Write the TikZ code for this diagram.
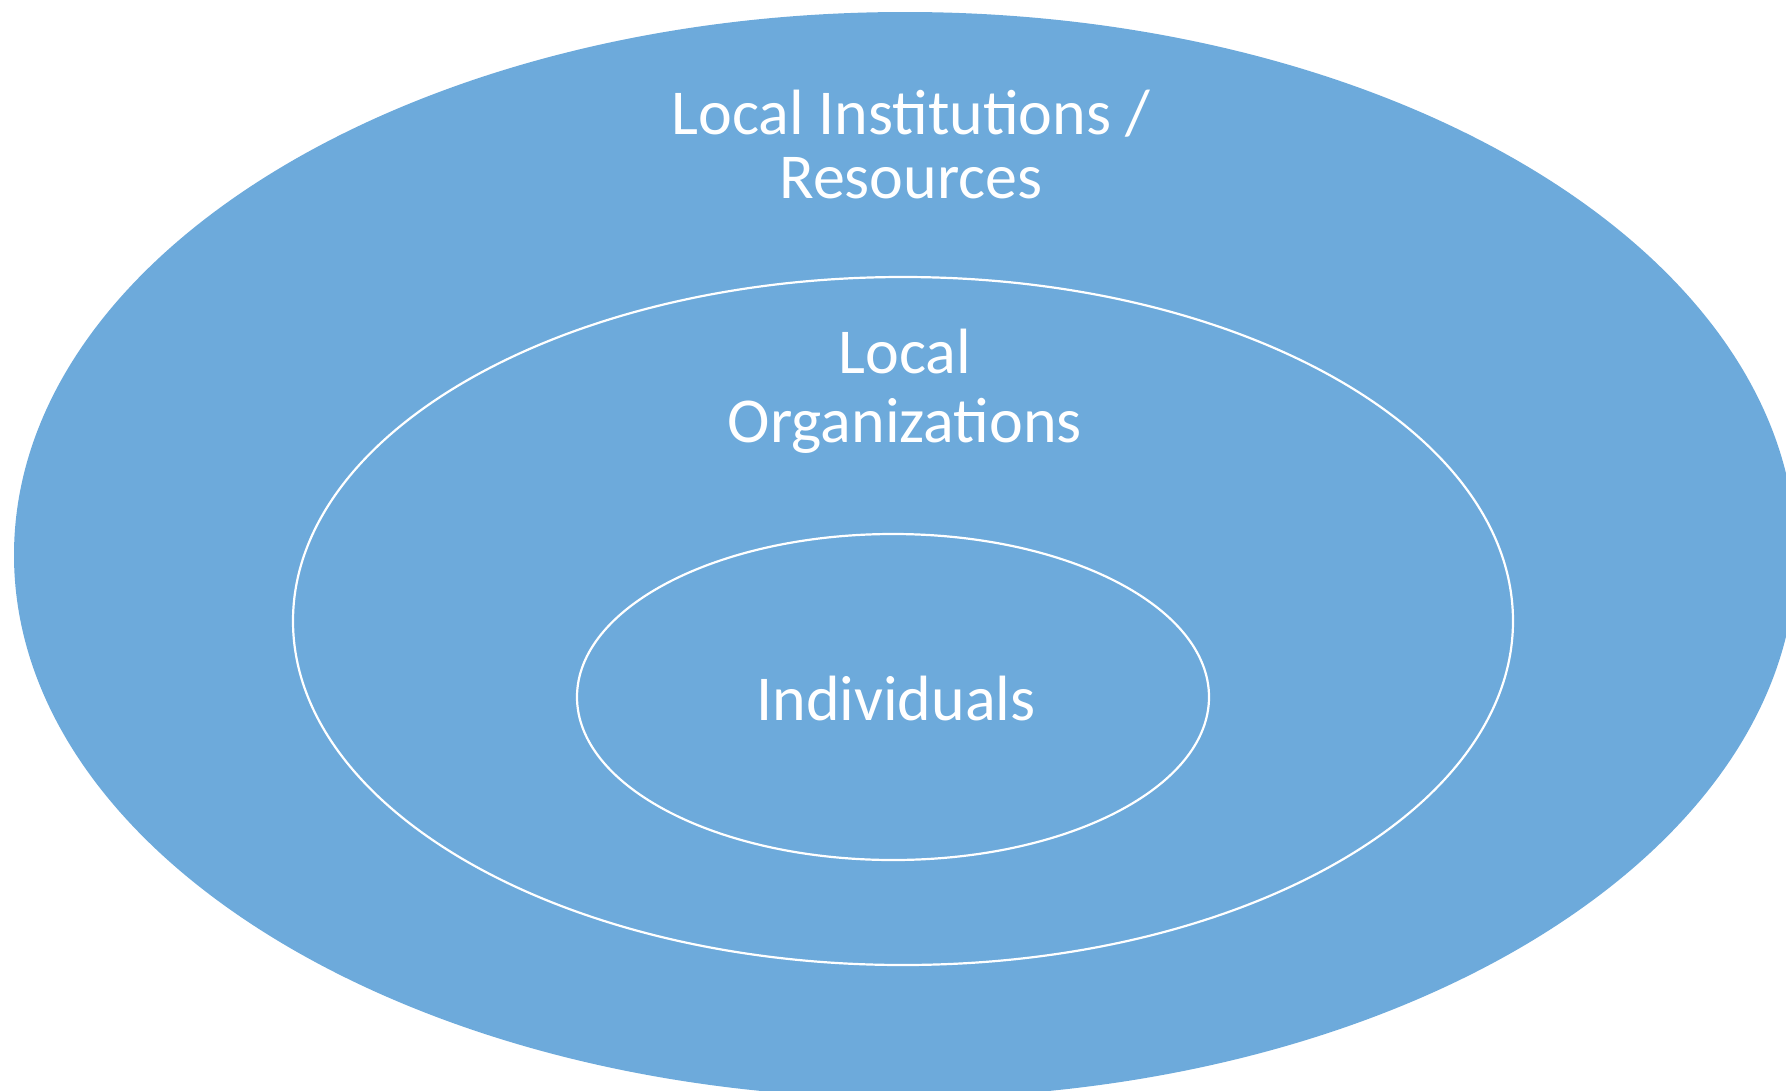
\documentclass[tikz,border=0pt]{standalone}
\usepackage{fontspec}
\setmainfont{Carlito}
\definecolor{ringblue}{HTML}{6DAADB}
\begin{document}
\begin{tikzpicture}[x=1pt,y=-1pt,
  ring/.style={draw=white,line width=2.2pt},
  lbl/.style={text=white,font=\fontsize{64}{66}\selectfont,anchor=base,inner sep=0pt}]
\useasboundingbox (0,0) rectangle (1786,1090);
\begin{scope}
\clip (0,0) rectangle (1786,1090);
\fill[ringblue] (905,555) ellipse [x radius=891, y radius=543];
\end{scope}
\draw[ring] (903,621) ellipse [x radius=610, y radius=344];
\draw[ring] (893,697) ellipse [x radius=316, y radius=163];
\node[lbl] (inst1) at (911,134) {Local Institutions /};
\node[lbl] (inst2) at (911,198) {Resources};
\node[lbl] (org1) at (905,373) {Local};
\node[lbl] (org2) at (905,442) {Organizations};
\node[lbl] (ind) at (896,720) {Individuals};
\end{tikzpicture}
\end{document}
